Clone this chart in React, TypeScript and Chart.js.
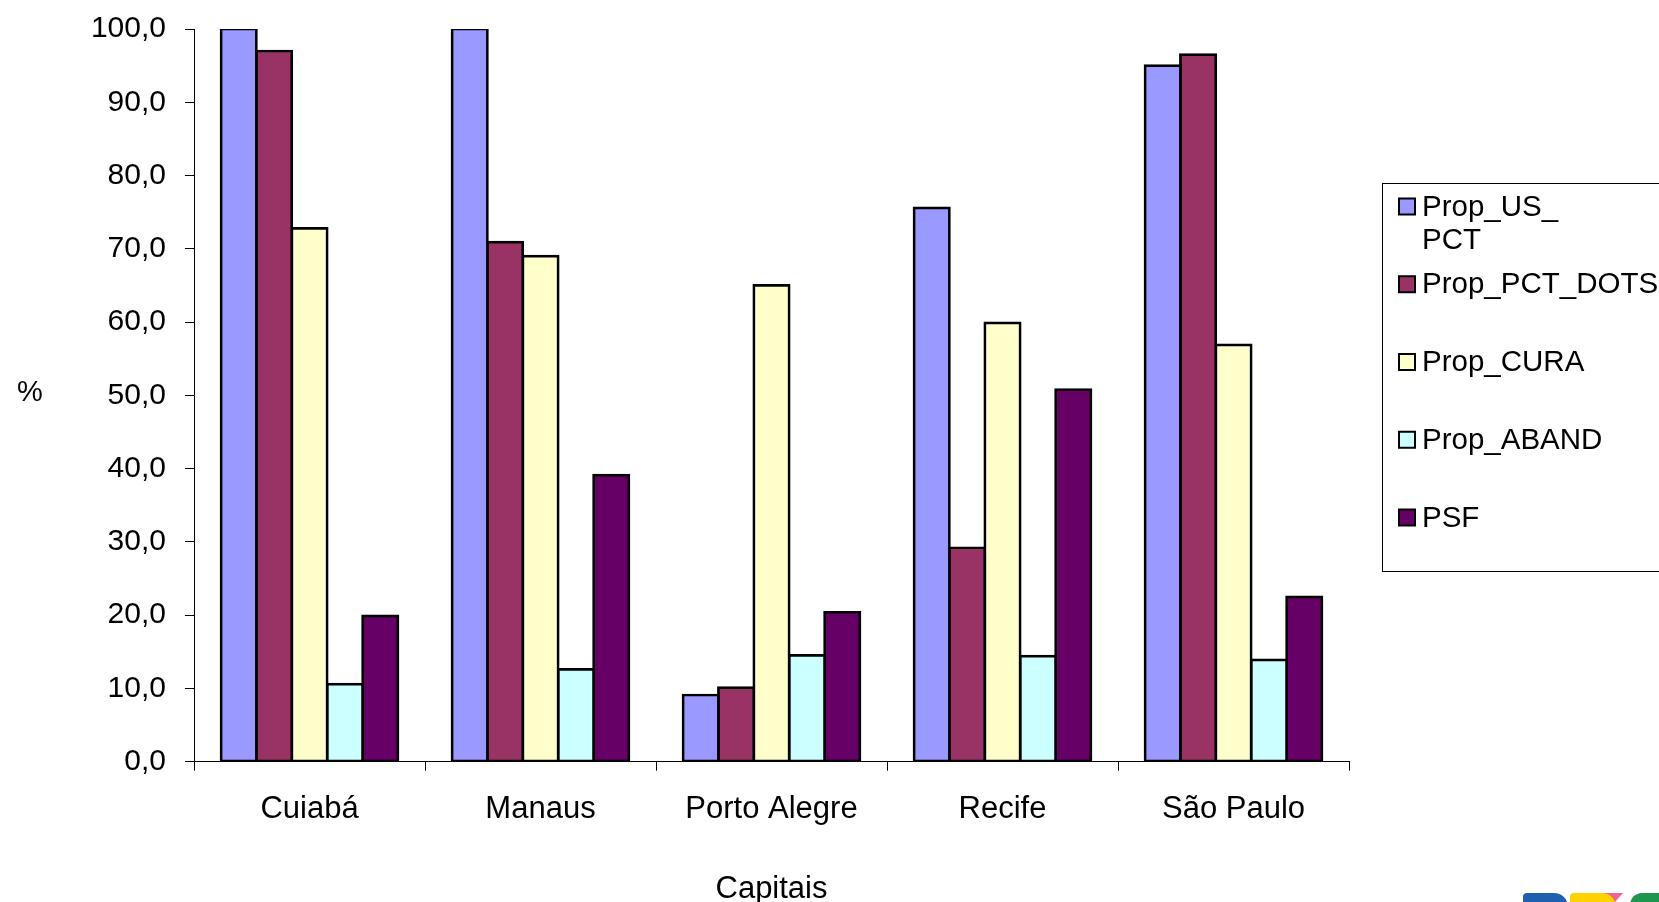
import React, { useEffect, useRef } from "react";
import { Chart, registerables } from "chart.js";

Chart.register(...registerables);

const categories = ["Cuiabá", "Manaus", "Porto Alegre", "Recife", "São Paulo"];
const propUsPct = [100, 100, 9.1, 75.6, 95.0];
const propPctDots = [97.0, 70.9, 10.1, 29.2, 96.5];
const propCura = [72.8, 69.0, 65.0, 59.9, 56.9];
const propAband = [10.6, 12.6, 14.5, 14.4, 13.9];
const psf = [19.9, 39.1, 20.4, 50.8, 22.5];

const seriesNames = ["Prop_US_PCT", "Prop_PCT_DOTS", "Prop_CURA", "Prop_ABAND", "PSF"];
const legendLines = [["Prop_US_", "PCT"], ["Prop_PCT_DOTS"], ["Prop_CURA"], ["Prop_ABAND"], ["PSF"]];
const seriesColors = ["#9999FF", "#993366", "#FFFFCC", "#CCFFFF", "#660066"];
const seriesValues = [propUsPct, propPctDots, propCura, propAband, psf];

const yMin = 0;
const yMax = 100;
const yStep = 10;
const yAxisTitle = "%";
const xAxisTitle = "Capitais";

const FONT = '"Liberation Sans", Arial, sans-serif';

const decorPlugin = {
  id: "decor",
  afterDraw(chart: any) {
    const ctx = chart.ctx as CanvasRenderingContext2D;
    const area = chart.chartArea;
    ctx.save();
    // y axis title (horizontal)
    ctx.font = `29px ${FONT}`;
    ctx.fillStyle = "#000";
    ctx.textAlign = "center";
    ctx.textBaseline = "middle";
    ctx.fillText(yAxisTitle, 30, (area.top + area.bottom) / 2 - 2);

    // legend box (clipped by the canvas on the right)
    const lx = area.right + 33;
    const ly = 183;
    ctx.strokeStyle = "#000";
    ctx.lineWidth = 1;
    ctx.strokeRect(lx + 0.5, ly + 0.5, 400, 388);
    ctx.textAlign = "left";
    chart.data.datasets.forEach((ds: any, i: number) => {
      const y0 = ly + 23.5 + i * 77.75;
      ctx.fillStyle = ds.backgroundColor;
      ctx.fillRect(lx + 17, y0 - 8, 16, 16);
      ctx.lineWidth = 2;
      ctx.strokeStyle = "#000";
      ctx.strokeRect(lx + 17, y0 - 8, 16, 16);
      ctx.fillStyle = "#000";
      ctx.font = `29.5px ${FONT}`;
      const lines = legendLines[i] || [ds.label];
      lines.forEach((t: string, j: number) => {
        ctx.fillText(t, lx + 40, y0 + 1 + j * 33.5);
      });
    });

    // partial logo fragment at bottom right
    const W = chart.width;
    const H = chart.height;
    const top = H - 9;
    ctx.fillStyle = "#1F5FAF";
    ctx.beginPath();
    ctx.roundRect(W - 136, top, 45, 20, [4, 14, 0, 0]);
    ctx.fill();
    ctx.fillStyle = "#F2648F";
    ctx.beginPath();
    ctx.moveTo(W - 60, top);
    ctx.lineTo(W - 36, top);
    ctx.lineTo(W - 44, H);
    ctx.lineTo(W - 60, H);
    ctx.closePath();
    ctx.fill();
    ctx.fillStyle = "#FFD200";
    ctx.beginPath();
    ctx.roundRect(W - 89, top, 46, 20, [4, 14, 0, 0]);
    ctx.fill();
    ctx.fillStyle = "#1E9650";
    ctx.beginPath();
    ctx.roundRect(W - 29, top, 40, 20, [12, 4, 0, 0]);
    ctx.fill();
    ctx.restore();
  },
};

export default function App() {
  const canvasRef = useRef<HTMLCanvasElement | null>(null);

  useEffect(() => {
    if (!canvasRef.current) return;
    const chart = new Chart(canvasRef.current, {
      type: "bar",
      data: {
        labels: categories,
        datasets: seriesNames.map((name, i) => ({
          label: name,
          data: seriesValues[i],
          backgroundColor: seriesColors[i],
          borderColor: "#000000",
          borderWidth: 2.7,
          inflateAmount: 1.35,
          borderSkipped: false,
          categoryPercentage: 0.766,
          barPercentage: 1.0,
        })),
      },
      options: {
        animation: false,
        responsive: false,
        maintainAspectRatio: false,
        layout: { padding: { top: 29, right: 310, left: 0, bottom: 0 } },
        plugins: {
          legend: { display: false },
          tooltip: { enabled: false },
        },
        scales: {
          x: {
            ticks: { color: "#000", font: { size: 31, family: FONT }, padding: 20 },
            grid: { drawOnChartArea: false, tickLength: 9, color: "#000", offset: true },
            border: { display: true, color: "#000", width: 1 },
            title: {
              display: true,
              text: xAxisTitle,
              color: "#000",
              font: { size: 31, family: FONT },
              padding: { top: 0, bottom: -6 },
            },
            afterFit: (s: any) => {
              s.height = 140.3;
              s.paddingLeft = 0;
              s.paddingRight = 0;
            },
          },
          y: {
            min: yMin,
            max: yMax,
            ticks: {
              stepSize: yStep,
              color: "#000",
              font: { size: 30, family: FONT },
              padding: 19,
              callback: (v: any) => Number(v).toFixed(1).replace(".", ","),
            },
            grid: { drawOnChartArea: false, tickLength: 9, color: "#000" },
            border: { display: true, color: "#000", width: 1 },
            afterFit: (s: any) => {
              s.width = 194;
              s.paddingTop = 0;
              s.paddingBottom = 0;
            },
          },
        },
      },
      plugins: [decorPlugin],
    } as any);
    return () => chart.destroy();
  }, []);

  return (
    <div style={{ position: "fixed", left: 0, top: 0, width: 1659, height: 902, background: "#fff" }}>
      <canvas ref={canvasRef} width={1659} height={902} style={{ display: "block" }} />
    </div>
  );
}
